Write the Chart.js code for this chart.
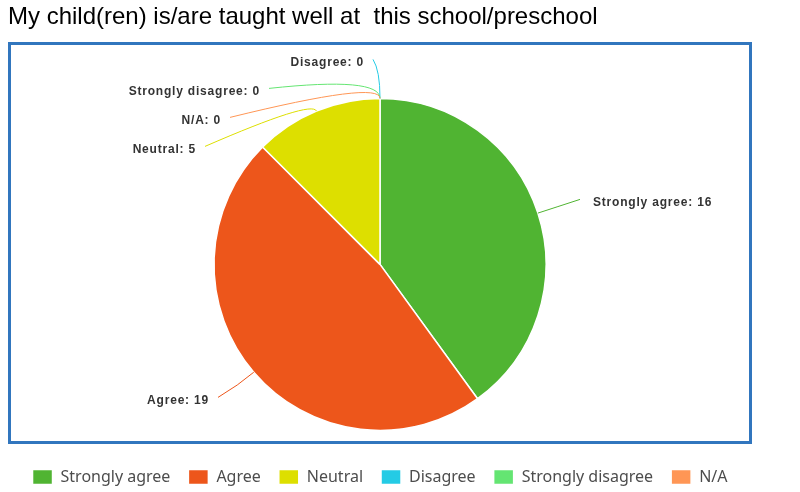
<!DOCTYPE html>
<html>
<head>
<meta charset="utf-8">
<script src="https://cdn.jsdelivr.net/npm/chart.js@4/dist/chart.umd.min.js"></script>
<style>
  html, body { margin: 0; padding: 0; background: #fff; }
  #wrap { position: relative; width: 800px; height: 492px; }
  #pCanv { position: absolute; left: 0; top: 0; }
  #frame {
    position: absolute; left: 8px; top: 42px; width: 738px; height: 396px;
    border: 3px solid #3176be; pointer-events: none;
  }
</style>
</head>
<body>
<div id="wrap">
  <canvas id="pCanv" width="800" height="492"></canvas>
  <div id="frame"></div>
</div>
<script>
const answers = ["Strongly agree", "Agree", "Neutral", "Disagree", "Strongly disagree", "N/A"];
const counts = [16, 19, 5, 0, 0, 0];
const colours = ["#50b432", "#ed561b", "#dddf00", "#24cbe5", "#64e572", "#ff9655"];

// where each connector ends, relative to pie centre, and the length of its radial stub
const lineEnds = [[200, -65], [-162, 133], [-175, -118], [-7, -205], [-111, -176], [-150, -147]];
const stubs = [20, 20, 12, 28, 22, 18];

const sliceLabels = {
  id: "sliceLabels",
  afterDatasetsDraw(chart) {
    const ctx = chart.ctx;
    const meta = chart.getDatasetMeta(0);
    ctx.save();
    ctx.font = "bold 12px 'Liberation Sans', Arial, sans-serif";
    ctx.letterSpacing = "0.8px";
    ctx.textBaseline = "middle";
    meta.data.forEach((arc, i) => {
      const p = arc.getProps(["x", "y", "startAngle", "endAngle", "outerRadius"], true);
      const mid = (p.startAngle + p.endAngle) / 2;
      const x0 = p.x + Math.cos(mid) * p.outerRadius;
      const y0 = p.y + Math.sin(mid) * p.outerRadius;
      const x1 = p.x + Math.cos(mid) * (p.outerRadius + stubs[i]);
      const y1 = p.y + Math.sin(mid) * (p.outerRadius + stubs[i]);
      const ex = p.x + lineEnds[i][0];
      const ey = p.y + lineEnds[i][1];
      ctx.strokeStyle = colours[i];
      ctx.lineWidth = 1;
      ctx.beginPath();
      ctx.moveTo(x0, y0);
      ctx.quadraticCurveTo(x1, y1, ex, ey);
      ctx.stroke();
      const right = lineEnds[i][0] > 0;
      ctx.textAlign = right ? "left" : "right";
      ctx.fillStyle = "#333";
      ctx.fillText(answers[i] + ": " + counts[i], ex + (right ? 13 : -9), ey + 3);
    });
    ctx.restore();
  }
};

new Chart(document.getElementById("pCanv"), {
  type: "pie",
  data: {
    labels: answers,
    datasets: [{
      data: counts,
      backgroundColor: colours,
      borderColor: "#fff",
      borderWidth: 1.5,
      radius: 166
    }]
  },
  options: {
    responsive: false,
    animation: false,
    layout: { padding: { left: 8, right: 48, top: 0, bottom: -3 } },
    plugins: {
      tooltip: { enabled: false },
      title: {
        display: true,
        text: "My child(ren) is/are taught well at  this school/preschool",
        align: "start",
        color: "#000",
        font: { family: "'Liberation Sans', Arial, sans-serif", size: 24, weight: "normal" },
        padding: { top: 3, bottom: 46 }
      },
      legend: {
        position: "bottom",
        labels: {
          boxWidth: 20,
          boxHeight: 15,
          padding: 18,
          color: "#4d4d4d",
          font: { family: "'Noto Sans', sans-serif", size: 16 }
        }
      }
    }
  },
  plugins: [sliceLabels]
});
</script>
</body>
</html>
